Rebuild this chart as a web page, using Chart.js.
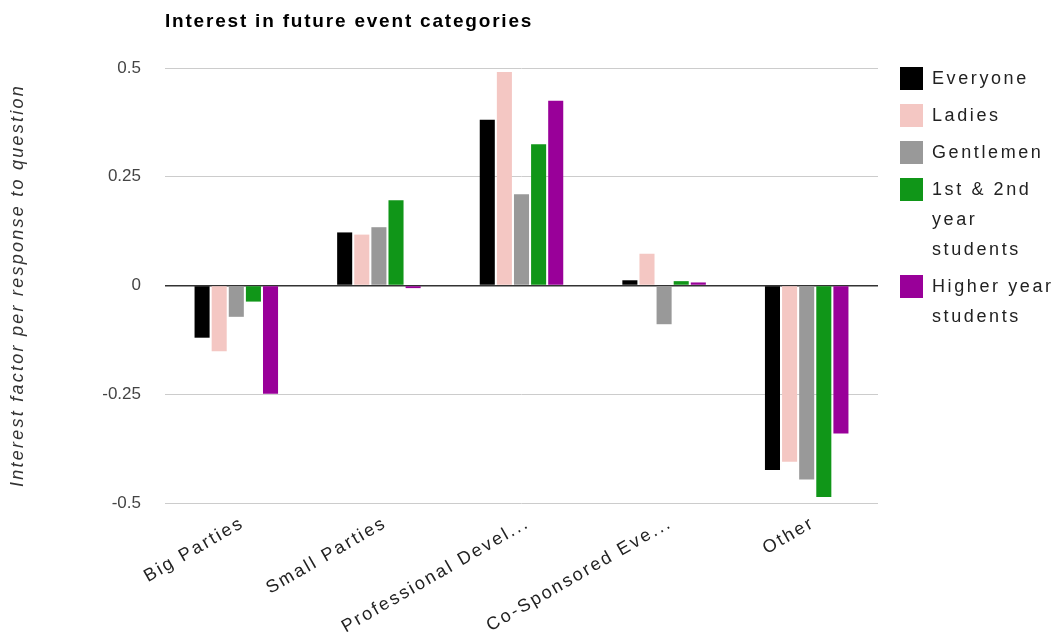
<!DOCTYPE html>
<html>
<head>
<meta charset="utf-8">
<script src="https://cdn.jsdelivr.net/npm/chart.js@4"></script>
<style>
  body { margin: 0; background: #fff; font-family: Arial, 'Liberation Sans', sans-serif; }
  #wrap { position: relative; width: 1058px; height: 635px; }
  #legend { position: absolute; left: 900px; top: 63px; list-style: none; margin: 0; padding: 0; }
  #legend li { display: flex; align-items: flex-start; margin-bottom: 7px; line-height: 30px; }
  #legend .box { width: 23px; height: 23px; flex: none; margin: 4px 9px 0 0; }
  #legend .txt { width: 126px; font-size: 18px; color: #222; letter-spacing: 2.6px; }
</style>
</head>
<body>
<div id="wrap">
  <canvas id="eventChart" width="1058" height="635"></canvas>
  <ul id="legend"></ul>
</div>
<script>
const chartTitle = 'Interest in future event categories'
const yTitle = 'Interest factor per response to question'
const categories = ['Big Parties', 'Small Parties', 'Professional Devel...', 'Co-Sponsored Eve...', 'Other']
const seriesNames = ['Everyone', 'Ladies', 'Gentlemen', '1st & 2nd year students', 'Higher year students']
const everyone = [-0.12, 0.122, 0.381, 0.012, -0.424]
const ladies = [-0.151, 0.117, 0.491, 0.073, -0.405]
const gentlemen = [-0.072, 0.134, 0.21, -0.089, -0.446]
const firstSecondYear = [-0.037, 0.196, 0.325, 0.01, -0.486]
const higherYear = [-0.249, -0.006, 0.425, 0.007, -0.34]
const yTicks = [-0.5, -0.25, 0, 0.25, 0.5]

const COLORS = ['#000000', '#f4c7c3', '#999999', '#109618', '#990099']
const FONT = 'Arial, "Liberation Sans", sans-serif'
const seriesData = [everyone, ladies, gentlemen, firstSecondYear, higherYear]

const datasets = seriesNames.map((name, i) => ({
  label: name,
  data: seriesData[i],
  backgroundColor: COLORS[i],
  borderWidth: 0,
  categoryPercentage: 0.6,
  barPercentage: 0.88,
}))

// legend in HTML so long names can wrap like the original
const legendEl = document.getElementById('legend')
datasets.forEach((ds) => {
  const li = document.createElement('li')
  li.innerHTML = '<span class="box" style="background:' + ds.backgroundColor + '"></span><span class="txt">' + ds.label.replace('&', '&amp;') + '</span>'
  legendEl.appendChild(li)
})

// title, axis title and slanted category labels, drawn with letter spacing
const spacedText = {
  id: 'spacedText',
  afterDraw(chart) {
    const { ctx, chartArea } = chart
    const xScale = chart.scales.x

    ctx.save()
    ctx.fillStyle = '#000'
    ctx.font = 'bold 19px ' + FONT
    ctx.letterSpacing = '1.8px'
    ctx.textAlign = 'left'
    ctx.textBaseline = 'middle'
    ctx.fillText(chartTitle, chartArea.left, 22)
    ctx.restore()

    ctx.save()
    ctx.fillStyle = '#333'
    ctx.font = 'italic 18px ' + FONT
    ctx.letterSpacing = '2.25px'
    ctx.textAlign = 'center'
    ctx.textBaseline = 'middle'
    ctx.translate(18, (chartArea.top + chartArea.bottom) / 2)
    ctx.rotate(-Math.PI / 2)
    ctx.fillText(yTitle, 0, 0)
    ctx.restore()

    categories.forEach((label, i) => {
      const x = xScale.getPixelForValue(i)
      ctx.save()
      ctx.fillStyle = '#222'
      ctx.font = '18px ' + FONT
      ctx.letterSpacing = '2.3px'
      ctx.textAlign = 'right'
      ctx.textBaseline = 'alphabetic'
      ctx.translate(x + 9, chartArea.bottom + 23)
      ctx.rotate(-30 * Math.PI / 180)
      ctx.fillText(label, 0, 0)
      ctx.restore()
    })
  },
}

const ctx = document.getElementById('eventChart').getContext('2d')
new Chart(ctx, {
  type: 'bar',
  data: { labels: categories, datasets: datasets },
  plugins: [spacedText],
  options: {
    responsive: false,
    animation: false,
    layout: { padding: { top: 68, right: 180 } },
    plugins: {
      legend: { display: false },
      tooltip: { enabled: false },
      title: { display: false },
    },
    scales: {
      x: {
        grid: { display: false },
        border: { display: false },
        ticks: { display: false },
        afterFit: (scale) => { scale.height = 132 },
      },
      y: {
        min: -0.5,
        max: 0.5,
        afterBuildTicks: (scale) => { scale.ticks = yTicks.map((v) => ({ value: v })) },
        grid: {
          color: (c) => (c.tick && c.tick.value === 0 ? '#333' : '#cccccc'),
          lineWidth: (c) => (c.tick && c.tick.value === 0 ? 1.5 : 1),
          drawTicks: false,
        },
        border: { display: false },
        ticks: {
          padding: 24,
          color: '#444',
          font: { family: FONT, size: 17 },
          callback: (v) => String(v),
        },
        afterFit: (scale) => { scale.width = 165 },
      },
    },
  },
})
</script>
</body>
</html>
